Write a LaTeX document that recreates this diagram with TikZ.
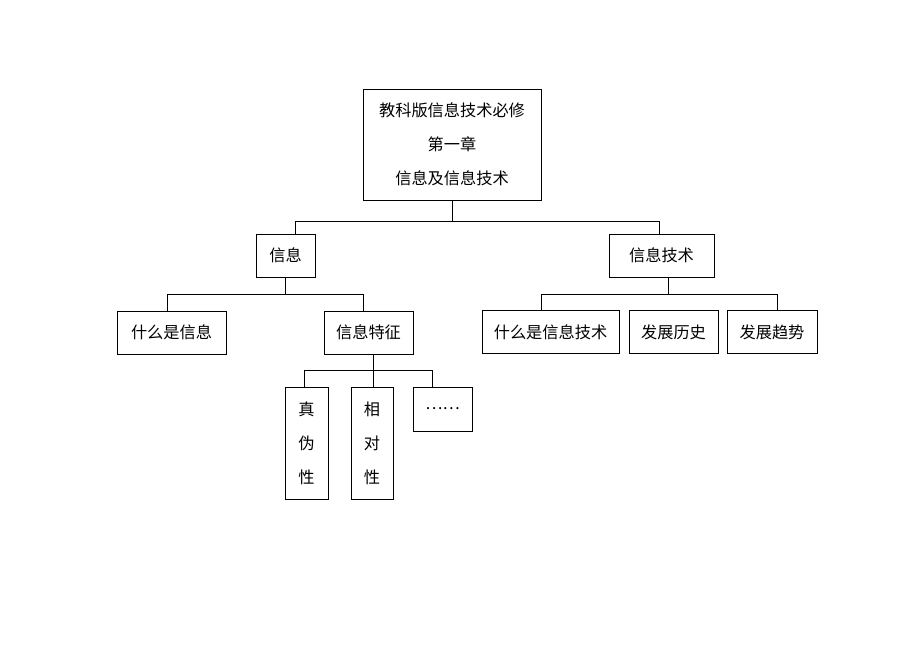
\documentclass[tikz,border=0pt]{standalone}
\usepackage{fontspec}
\setmainfont{Noto Sans CJK SC}
\tikzset{
    kuang/.style={draw,line width=0.8pt,inner sep=0pt,minimum height=43,
        font=\fontsize{16.2}{34}\selectfont,align=center},
    lian/.style={line width=0.8pt}
}
\begin{document}
\begin{tikzpicture}[x=1pt,y=-1pt]
        \useasboundingbox (0,0) rectangle (920,651);
        %% Top
        \node[kuang,minimum width=178,minimum height=111] (bixiu) at (452,144.5)
            {教科版信息技术必修\\第一章\\信息及信息技术};
        %% Level 1
        \node[kuang,minimum width=59] (xinxi) at (285.5,255.5) {信息};
        \node[kuang,minimum width=105] (jishu) at (661.5,255.5) {信息技术};
        %% Level 2
        \node[kuang,minimum width=109] (shenme) at (171.5,332.5) {什么是信息};
        \node[kuang,minimum width=89] (tezheng) at (368.5,332.5) {信息特征};
        \node[kuang,minimum width=137] (shenmejs) at (550.5,332) {什么是信息技术};
        \node[kuang,minimum width=89] (lishi) at (673.5,332) {发展历史};
        \node[kuang,minimum width=90] (qushi) at (772,332) {发展趋势};
        %% Level 3
        \node[kuang,minimum width=43,minimum height=112] (zhenwei) at (306.5,443) {真\\伪\\性};
        \node[kuang,minimum width=42,minimum height=112] (xiangdui) at (372,443) {相\\对\\性};
        \node[kuang,minimum width=59,minimum height=44] (gengduo) at (442.5,409) {……};
        %% Lines
        \draw[lian] (bixiu.south) -- ++(0,21) coordinate (c0);
        \draw[lian] ([xshift=9.5]xinxi.north) |- (c0) -| ([xshift=-2.5]jishu.north);
        \draw[lian] (xinxi.south) -- ++(0,17) coordinate (c1);
        \draw[lian] ([xshift=-4.5]shenme.north) |- (c1) -| ([xshift=-5.5]tezheng.north);
        \draw[lian] ([xshift=6.5]jishu.south) -- ++(0,17) coordinate (c2);
        \draw[lian] ([xshift=-9.5]shenmejs.north) |- (c2) -| ([xshift=5]qushi.north);
        \draw[lian] ([xshift=4.5]tezheng.south) -- ([xshift=1]xiangdui.north);
        \draw[lian] ([xshift=4.5]tezheng.south) ++(0,16) coordinate (c3);
        \draw[lian] ([xshift=-2.5]zhenwei.north) |- (c3) -| ([xshift=-10.5]gengduo.north);
    \end{tikzpicture}
\end{document}
